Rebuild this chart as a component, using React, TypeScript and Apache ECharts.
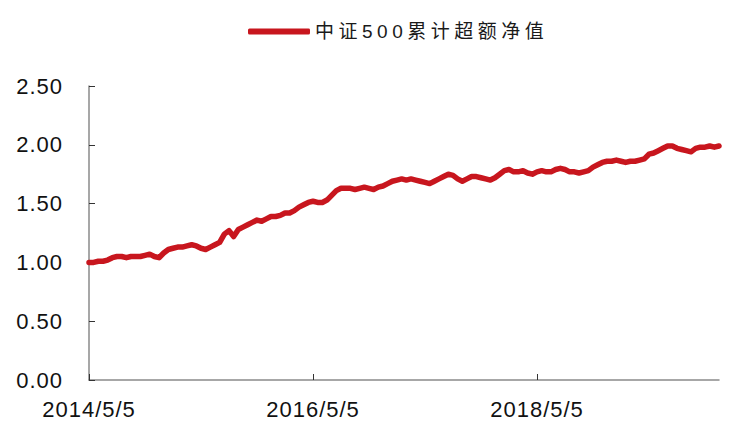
import React, { useEffect, useRef } from "react";
import * as echarts from "echarts";

const seriesName = "中证500累计超额净值";

// Half-month date grid (5th and 20th of each month), 2014/5/5 .. 2019/12/20
const startYear = 2014;
const startMonth = 5;
const pointCount = 136;
function buildDates(): string[] {
  const out: string[] = [];
  for (let i = 0; i < pointCount; i++) {
    const m0 = startMonth - 1 + Math.floor(i / 2);
    const y = startYear + Math.floor(m0 / 12);
    const m = (m0 % 12) + 1;
    const d = i % 2 === 0 ? 5 : 20;
    out.push(`${y}/${m}/${d}`);
  }
  return out;
}
const dates = buildDates();

const xTickLabels = ["2014/5/5", "2016/5/5", "2018/5/5"];

const excessNav = [
  1.0, 1.0, 1.01, 1.01, 1.02, 1.04, 1.05, 1.05, 1.04, 1.05,
  1.05, 1.05, 1.06, 1.07, 1.05, 1.04, 1.08, 1.11, 1.12, 1.13,
  1.13, 1.14, 1.15, 1.14, 1.12, 1.11, 1.13, 1.15, 1.17, 1.24,
  1.27, 1.22, 1.28, 1.3, 1.32, 1.34, 1.36, 1.35, 1.37, 1.39,
  1.39, 1.4, 1.42, 1.42, 1.44, 1.47, 1.49, 1.51, 1.52, 1.51,
  1.51, 1.53, 1.57, 1.61, 1.63, 1.63, 1.63, 1.62, 1.63, 1.64,
  1.63, 1.62, 1.64, 1.65, 1.67, 1.69, 1.7, 1.71, 1.7, 1.71,
  1.7, 1.69, 1.68, 1.67, 1.69, 1.71, 1.73, 1.75, 1.74, 1.71,
  1.69, 1.71, 1.73, 1.73, 1.72, 1.71, 1.7, 1.72, 1.75, 1.78,
  1.79, 1.77, 1.77, 1.78, 1.76, 1.75, 1.77, 1.78, 1.77, 1.77,
  1.79, 1.8, 1.79, 1.77, 1.77, 1.76, 1.77, 1.78, 1.81, 1.83,
  1.85, 1.86, 1.86, 1.87, 1.86, 1.85, 1.86, 1.86, 1.87, 1.88,
  1.92, 1.93, 1.95, 1.97, 1.99, 1.99, 1.97, 1.96, 1.95, 1.94,
  1.97, 1.98, 1.98, 1.99, 1.98, 1.99,
];

const yMin = 0;
const yMax = 2.5;
const yInterval = 0.5;

const lineColor = "#c8161e";

export default function App() {
  const ref = useRef<HTMLDivElement>(null);

  useEffect(() => {
    if (!ref.current) return;
    const chart = echarts.init(ref.current, undefined, { renderer: "svg" });
    const axisFont = "'Liberation Sans', Arial, Helvetica, sans-serif";
    const showTick = (_i: number, v: string) => xTickLabels.indexOf(v) >= 0;
    chart.setOption({
      animation: false,
      backgroundColor: "#ffffff",
      legend: {
        show: true,
        left: 243,
        top: 17,
        itemWidth: 62,
        itemHeight: 6,
        data: [{ name: seriesName, icon: "roundRect" }],
        itemStyle: { color: lineColor, borderWidth: 0 },
        textStyle: {
          fontSize: 19,
          color: "#1a1a1a",
          fontFamily: "'Liberation Sans', 'Noto Sans CJK SC', sans-serif",
        },
      },
      grid: {
        left: 89,
        right: 10,
        top: 86,
        bottom: 49,
        containLabel: false,
      },
      xAxis: {
        type: "category",
        data: dates,
        boundaryGap: false,
        axisLine: { show: true, lineStyle: { color: "#8a8a8a", width: 1.5 } },
        axisTick: {
          show: true,
          inside: true,
          length: 6,
          interval: showTick,
          lineStyle: { color: "#333333", width: 1 },
        },
        axisLabel: {
          show: true,
          interval: showTick,
          margin: 18,
          fontSize: 22,
          color: "#111111",
          fontFamily: axisFont,
        },
        splitLine: { show: false },
      },
      yAxis: {
        type: "value",
        min: yMin,
        max: yMax,
        interval: yInterval,
        axisLine: { show: true, lineStyle: { color: "#8a8a8a", width: 1.5 } },
        axisTick: {
          show: true,
          inside: true,
          length: 6,
          lineStyle: { color: "#333333", width: 1 },
        },
        axisLabel: {
          show: true,
          margin: 26,
          fontSize: 22,
          color: "#111111",
          fontFamily: axisFont,
          formatter: (v: number) => v.toFixed(2),
        },
        splitLine: { show: false },
      },
      series: [
        {
          name: seriesName,
          type: "line",
          data: excessNav,
          symbol: "none",
          showSymbol: false,
          smooth: false,
          lineStyle: { color: lineColor, width: 5.5, cap: "round", join: "round" },
          itemStyle: { color: lineColor },
        },
      ],
    });
    return () => chart.dispose();
  }, []);

  return (
    <>
      <style>{`
        .nav-chart text { letter-spacing: 1px; }
        .nav-chart text[style*="19px"] { letter-spacing: 4.5px; }
      `}</style>
      <div
        ref={ref}
        className="nav-chart"
        style={{ position: "fixed", left: 0, top: 0, width: 729, height: 429 }}
      />
    </>
  );
}
